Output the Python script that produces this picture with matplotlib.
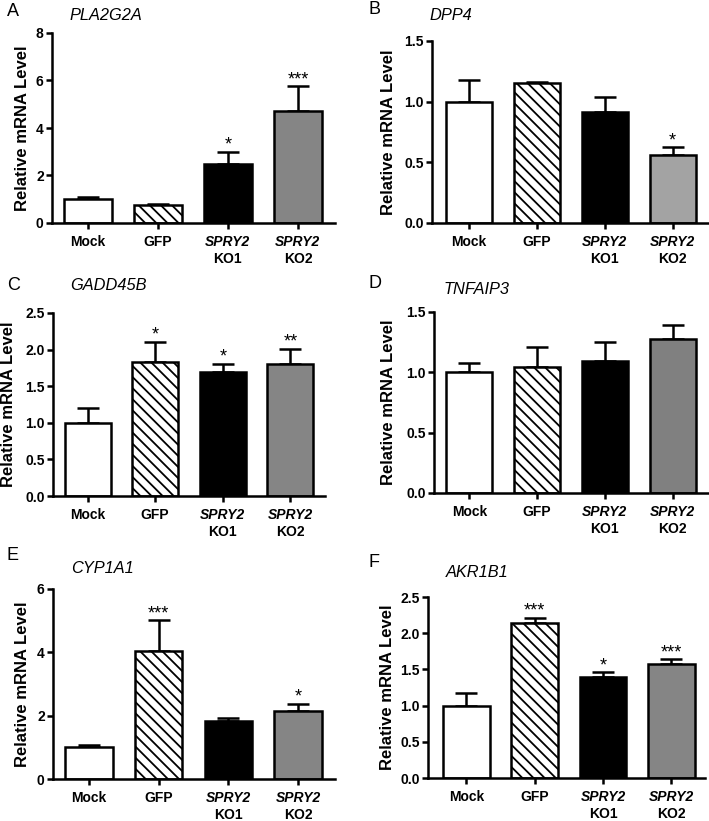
import matplotlib
matplotlib.use('Agg')
import matplotlib.pyplot as plt
import numpy as np

plt.rcParams['font.family'] = ['Liberation Sans', 'DejaVu Sans']
plt.rcParams['hatch.linewidth'] = 1.3

W, H = 709, 821

groups = ['Mock', 'GFP', 'KO1', 'KO2']

# panel data: gene, mean, upper error, significance
genes = ['PLA2G2A', 'DPP4', 'GADD45B', 'TNFAIP3', 'CYP1A1', 'AKR1B1']
letters = ['A', 'B', 'C', 'D', 'E', 'F']

means_a = [1.0, 0.75, 2.48, 4.70]
errs_a = [0.10, 0.05, 0.52, 1.05]
stars_a = ['', '', '*', '***']

means_b = [1.0, 1.155, 0.915, 0.563]
errs_b = [0.178, 0.010, 0.120, 0.062]
stars_b = ['', '', '', '*']

means_c = [1.0, 1.824, 1.696, 1.80]
errs_c = [0.207, 0.286, 0.109, 0.21]
stars_c = ['', '*', '*', '**']

means_d = [1.0, 1.044, 1.095, 1.275]
errs_d = [0.077, 0.163, 0.160, 0.117]
stars_d = ['', '', '', '']

means_e = [1.0, 4.03, 1.84, 2.14]
errs_e = [0.06, 0.98, 0.09, 0.23]
stars_e = ['', '***', '', '*']

means_f = [1.0, 2.147, 1.39, 1.573]
errs_f = [0.17, 0.063, 0.07, 0.067]
stars_f = ['', '***', '*', '***']

yticks = [[0, 2, 4, 6, 8], [0, 0.5, 1.0, 1.5], [0, 0.5, 1.0, 1.5, 2.0, 2.5],
          [0, 0.5, 1.0, 1.5], [0, 2, 4, 6], [0, 0.5, 1.0, 1.5, 2.0, 2.5]]
int_ticks = [True, False, False, False, True, False]

# layout in pixels: axes left, top, right, bottom
boxes = [(52, 33, 335, 223), (432, 41, 708, 223),
         (53, 313, 325, 496), (434, 312, 708, 493),
         (53, 589, 335, 779), (428, 597, 705, 778)]
xlims = [(-0.514, 3.53), (-0.546, 3.52), (-0.51, 3.51),
         (-0.52, 3.52), (-0.514, 3.53), (-0.56, 3.49)]
ylabel_cx = [22, 388, 8, 388, 22, 387]
letter_pos = [(7, 12), (368, 10), (7, 285), (368, 283), (7, 555), (368, 562)]
title_pos = [(70, 15), (430, 15), (70, 286), (444, 290), (71, 568), (446, 572)]
ko2_colors = ['#858585', '#a3a3a3', '#858585', '#808080', '#858585', '#858585']

all_means = [means_a, means_b, means_c, means_d, means_e, means_f]
all_errs = [errs_a, errs_b, errs_c, errs_d, errs_e, errs_f]
all_stars = [stars_a, stars_b, stars_c, stars_d, stars_e, stars_f]

fig = plt.figure(figsize=(W / 100, H / 100), dpi=100)

LW = 1.8
FS = 10

for k in range(6):
    l, t, r, b = boxes[k]
    ax = fig.add_axes([l / W, 1 - b / H, (r - l) / W, (b - t) / H])
    x = np.arange(len(groups))
    m = np.array(all_means[k])
    e = np.array(all_errs[k])

    ax.errorbar(x, m, yerr=[np.zeros_like(e), e], fmt='none', ecolor='black',
                elinewidth=LW, capsize=8, capthick=LW, zorder=1)
    bars = ax.bar(x, m, width=0.68, color=['white', 'white', 'black', ko2_colors[k]],
                  edgecolor='black', linewidth=LW, zorder=2)
    bars[1].set_hatch('\\\\\\')

    for i, s in enumerate(all_stars[k]):
        if s:
            ax.annotate(s, (x[i], m[i] + e[i]), xytext=(0, 1.5), textcoords='offset points',
                        ha='center', va='baseline', fontsize=13)

    ax.set_xlim(*xlims[k])
    ax.set_ylim(yticks[k][0], yticks[k][-1])
    ax.set_yticks(yticks[k])
    if int_ticks[k]:
        ax.set_yticklabels([str(int(v)) for v in yticks[k]])
    else:
        ax.set_yticklabels(['%.1f' % v for v in yticks[k]])
    ax.set_xticks(x)
    ax.set_xticklabels([''] * 4)

    for side in ['top', 'right']:
        ax.spines[side].set_visible(False)
    for side in ['left', 'bottom']:
        ax.spines[side].set_linewidth(LW)
    ax.tick_params(direction='out', length=4.5, width=LW, labelsize=FS, pad=1.5)
    for lab in ax.get_yticklabels():
        lab.set_fontweight('bold')

    # group labels
    tr = ('data', 'axes fraction')
    ax.annotate('Mock', (0, 0), xycoords=tr, xytext=(0, -13.5), textcoords='offset points',
                ha='center', va='center', fontsize=FS, fontweight='bold')
    ax.annotate('GFP', (1, 0), xycoords=tr, xytext=(0, -13.5), textcoords='offset points',
                ha='center', va='center', fontsize=FS, fontweight='bold')
    for i, ko in [(2, 'KO1'), (3, 'KO2')]:
        ax.annotate('SPRY2', (i, 0), xycoords=tr, xytext=(0, -13.5), textcoords='offset points',
                    ha='center', va='center', fontsize=FS, fontweight='bold', style='italic')
        ax.annotate(ko, (i, 0), xycoords=tr, xytext=(0, -26), textcoords='offset points',
                    ha='center', va='center', fontsize=FS, fontweight='bold')

    ax.set_ylabel('Relative mRNA Level', fontsize=12, fontweight='bold')
    ax.yaxis.set_label_coords((ylabel_cx[k] + 8 - l) / (r - l), 0.5)

    lx, ly = letter_pos[k]
    fig.text(lx / W, 1 - ly / H, letters[k], fontsize=13, ha='left', va='center')
    tx, ty = title_pos[k]
    fig.text(tx / W, 1 - ty / H, genes[k], fontsize=11.8, style='italic', ha='left', va='center')

fig.savefig('out.png', dpi=100)
